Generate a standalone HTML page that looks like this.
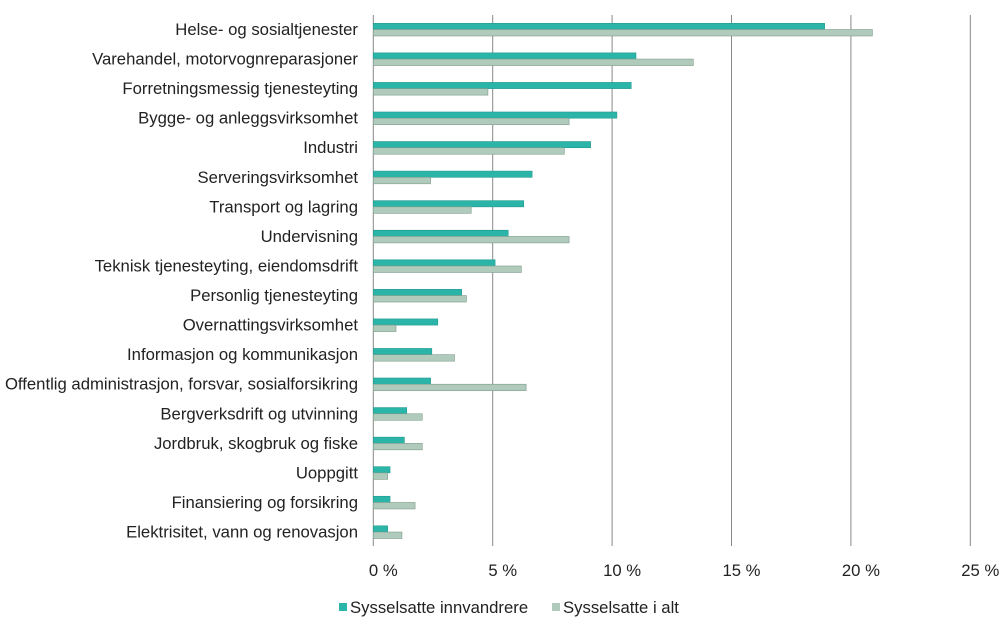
<!DOCTYPE html>
<html><head><meta charset="utf-8"><style>
body{margin:0;background:#fff;font-family:"Liberation Sans",sans-serif;}
svg text{font-family:"Liberation Sans",sans-serif;font-size:16.7px;fill:#222;}
</style></head><body>
<svg id="c" width="1000" height="634"></svg>
<script>
const categories=["Helse- og sosialtjenester","Varehandel, motorvognreparasjoner","Forretningsmessig tjenesteyting","Bygge- og anleggsvirksomhet","Industri","Serveringsvirksomhet","Transport og lagring","Undervisning","Teknisk tjenesteyting, eiendomsdrift","Personlig tjenesteyting","Overnattingsvirksomhet","Informasjon og kommunikasjon","Offentlig administrasjon, forsvar, sosialforsikring","Bergverksdrift og utvinning","Jordbruk, skogbruk og fiske","Uoppgitt","Finansiering og forsikring","Elektrisitet, vann og renovasjon"];
const immigrants=[18.9,11.0,10.8,10.2,9.1,6.65,6.3,5.65,5.1,3.7,2.7,2.45,2.4,1.4,1.3,0.7,0.7,0.6];
const total=[20.9,13.4,4.8,8.2,8.0,2.4,4.1,8.2,6.2,3.9,0.95,3.4,6.4,2.05,2.05,0.6,1.75,1.2];
const ticks=[0,5,10,15,20,25];
const tickLabels=["0 %","5 %","10 %","15 %","20 %","25 %"];
const NS="http://www.w3.org/2000/svg",svg=document.getElementById('c');
const x=v=>373.3+v*23.88, rowY=i=>29.5+i*29.56;
function el(t,a,txt){const e=document.createElementNS(NS,t);for(const k in a)e.setAttribute(k,a[k]);if(txt!=null)e.textContent=txt;svg.appendChild(e);return e;}
ticks.forEach((t,i)=>{
 const g=el('line',{x1:x(t),x2:x(t),y1:15,y2:546,stroke:'#888','stroke-width':1});
 
 
 const l=el('text',{x:x(t)+10,y:576,'text-anchor':'middle'},tickLabels[i]);
 
 
});
categories.forEach((c,i)=>{
 const y=rowY(i);
 const l=el('text',{x:358,y:y+5.5,'text-anchor':'end'},c);
 
 
 const a=el('rect',{x:x(0),y:y-6.2,width:x(immigrants[i])-x(0),height:6.2,fill:'#2bb5a8',stroke:'#239a8f','stroke-width':0.6});
 
 
 const b=el('rect',{x:x(0),y:y,width:x(total[i])-x(0),height:6.5,fill:'#b0cbbb',stroke:'#7f9c8c','stroke-width':0.6});
 
 
});
const s1=el('rect',{x:339,y:603,width:8,height:8,fill:'#2bb5a8'});


const t1=el('text',{x:350,y:613},'Sysselsatte innvandrere');


const s2=el('rect',{x:552,y:603,width:8,height:8,fill:'#b0cbbb'});


const t2=el('text',{x:563,y:613},'Sysselsatte i alt');


</script>
</body></html>
